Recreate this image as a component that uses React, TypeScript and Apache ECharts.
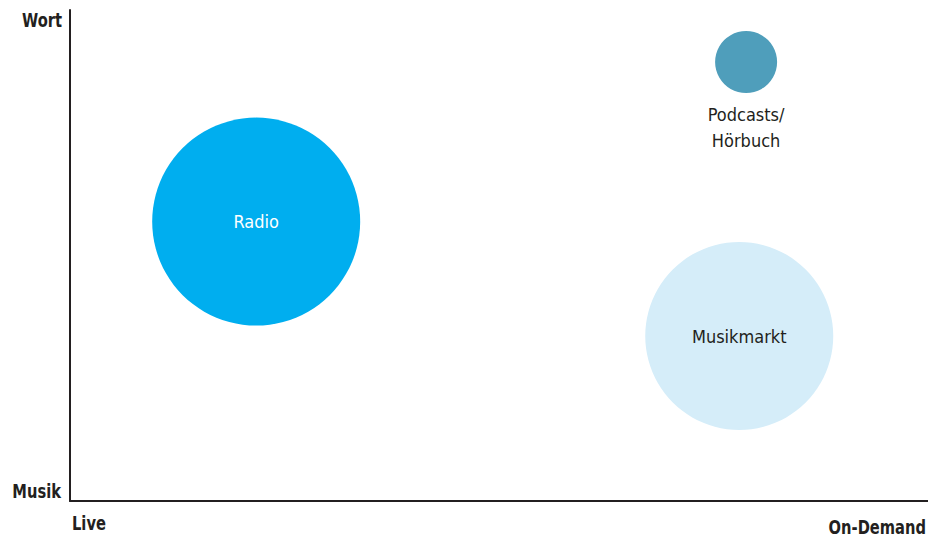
import React, { useEffect, useRef } from "react";
import * as echarts from "echarts";

const names = ["Radio", "Podcasts/\nHörbuch", "Musikmarkt"];
const xValues = [21.7, 78.8, 78.0];
const yValues = [56.9, 89.4, 33.6];
const sizes = [208, 62, 188];
const colors = ["#00AEEF", "#4F9EBB", "#D5EDF9"];
const labelColors = ["#FFFFFF", "#231F20", "#231F20"];
const labelPositions = ["inside", "bottom", "inside"];
const yTickLabels = ["Musik", "Wort"];
const xTickLabels = ["Live", "On-Demand"];

const FONT = "'Liberation Sans Narrow', 'DejaVu Sans Condensed', 'Roboto Condensed', sans-serif";
const SX = 0.86;

export default function App() {
  const ref = useRef<HTMLDivElement>(null);
  useEffect(() => {
    if (!ref.current) return;
    const chart = echarts.init(ref.current, null, { renderer: "svg" });
    const data = names.map((n, i) => ({
      name: n,
      value: [xValues[i], yValues[i], sizes[i]],
      itemStyle: { color: colors[i] },
      label: {
        show: true,
        formatter: "{b}",
        position: labelPositions[i],
        distance: 8,
        color: labelColors[i],
        fontSize: 18,
        lineHeight: 26,
        fontFamily: FONT,
      },
    }));
    const txt = (text: string, x: number, y: number, align: string) => ({
      type: "text",
      x,
      y,
      scaleX: SX,
      style: {
        text,
        x: 0,
        y: 0,
        textAlign: align,
        textVerticalAlign: "middle",
        fill: "#231F20",
        font: `bold 19px ${FONT}`,
      },
    });
    chart.setOption({
      animation: false,
      backgroundColor: "#ffffff",
      grid: { left: 70, right: 0, top: 10, bottom: 38, containLabel: false },
      xAxis: {
        type: "value",
        min: 0,
        max: 100,
        axisLine: { show: true, onZero: false, lineStyle: { color: "#231F20", width: 2 } },
        axisTick: { show: false },
        axisLabel: { show: false },
        splitLine: { show: false },
      },
      yAxis: {
        type: "value",
        min: 0,
        max: 100,
        axisLine: { show: true, onZero: false, lineStyle: { color: "#231F20", width: 2 } },
        axisTick: { show: false },
        axisLabel: { show: false },
        splitLine: { show: false },
      },
      graphic: [
        txt(yTickLabels[1], 62, 21, "right"),
        txt(yTickLabels[0], 61, 492, "right"),
        txt(xTickLabels[0], 72, 524, "left"),
        txt(xTickLabels[1], 926, 528, "right"),
      ],
      series: [
        {
          type: "scatter",
          symbol: "circle",
          symbolSize: (v: number[]) => v[2],
          data,
          itemStyle: { opacity: 1 },
          emphasis: { disabled: true },
        },
      ],
    });
    return () => chart.dispose();
  }, []);
  return <div ref={ref} style={{ width: 928, height: 539, position: "absolute", left: 0, top: 0 }} />;
}
